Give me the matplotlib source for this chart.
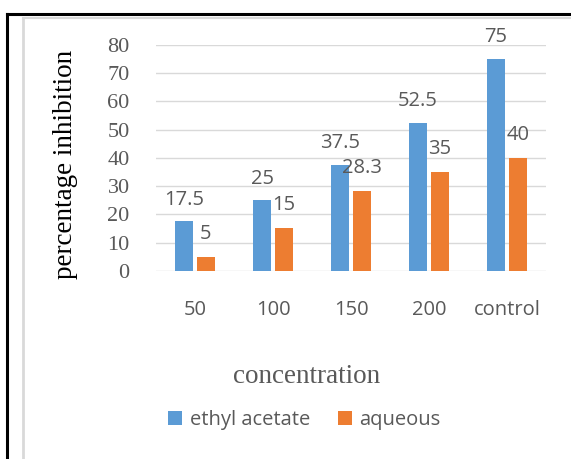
import matplotlib.pyplot as plt
from matplotlib.lines import Line2D
import numpy as np

categories = ['50', '100', '150', '200', 'control']
ethyl_acetate = [17.5, 25, 37.5, 52.5, 75]
aqueous = [5, 15, 28.3, 35, 40]
ethyl_labels = ['17.5', '25', '37.5', '52.5', '75']
aqueous_labels = ['5', '15', '28.3', '35', '40']
yticks = [0, 10, 20, 30, 40, 50, 60, 70, 80]

blue = '#5B9BD5'
orange = '#ED7D31'
grey_text = '#595959'
sans = ['Open Sans', 'DejaVu Sans']
serif = ['Liberation Serif', 'DejaVu Serif']

fig = plt.figure(figsize=(5.71, 4.59), dpi=100)
ax = fig.add_axes([0.2732, 0.4102, 0.683, 0.4917])

x = np.arange(len(categories))
w = 0.225
b1 = ax.bar(x - 0.14, ethyl_acetate, w, color=blue, label='ethyl acetate', zorder=3)
b2 = ax.bar(x + 0.14, aqueous, w, color=orange, label='aqueous', zorder=3)

for rect, lab in zip(b1, ethyl_labels):
    ax.annotate(lab, (rect.get_x() + rect.get_width() / 2, rect.get_height()),
                xytext=(0, 12), textcoords='offset points', ha='center', va='baseline',
                fontsize=14.5, family=sans, color=grey_text, annotation_clip=False)
for rect, lab in zip(b2, aqueous_labels):
    ax.annotate(lab, (rect.get_x() + rect.get_width() / 2, rect.get_height()),
                xytext=(0, 13), textcoords='offset points', ha='center', va='baseline',
                fontsize=14.5, family=sans, color=grey_text, annotation_clip=False)

ax.set_xlim(-0.5, len(categories) - 0.5)
ax.set_ylim(0, 80)
ax.set_yticks(yticks)
ax.set_yticklabels([str(v) for v in yticks], family=serif, fontsize=16, color=grey_text)
ax.set_xticks(x)
ax.set_xticklabels(categories, family=sans, fontsize=14.5, color=grey_text)
ax.tick_params(axis='both', length=0)
ax.tick_params(axis='y', pad=19)
ax.tick_params(axis='x', pad=21)
ax.grid(axis='y', color='#D9D9D9', lw=1, zorder=0)
for s in ax.spines.values():
    s.set_visible(False)

ax.set_ylabel('percentage inhibition', family=serif, fontsize=19.5, color='black')
ax.yaxis.set_label_coords(-0.2, 0.473)
ax.set_xlabel('concentration', family=serif, fontsize=19.5, color=grey_text, va='center')
ax.xaxis.set_label_coords(0.387, -0.4666)

fig.legend(handles=[b1, b2], labels=['ethyl acetate', 'aqueous'], loc='center',
           bbox_to_anchor=(304.5 / 571, 1 - 420 / 459), ncol=2, frameon=False,
           prop={'family': sans, 'size': 14.5}, handlelength=0.7, handleheight=0.7,
           handletextpad=0.36, columnspacing=1.4, labelcolor=grey_text)

# frame lines around the chart
fig.add_artist(Line2D([7 / 571, 1], [1 - 14 / 459] * 2, color='black', lw=2.2))
fig.add_artist(Line2D([7 / 571] * 2, [0, 1 - 14 / 459], color='black', lw=2.2))
fig.add_artist(Line2D([23 / 571, 1], [1 - 17.5 / 459] * 2, color='#D9D9D9', lw=1.5))
fig.add_artist(Line2D([23.5 / 571] * 2, [0, 1 - 17.5 / 459], color='#D9D9D9', lw=2))

fig.savefig('out.png', dpi=100)
